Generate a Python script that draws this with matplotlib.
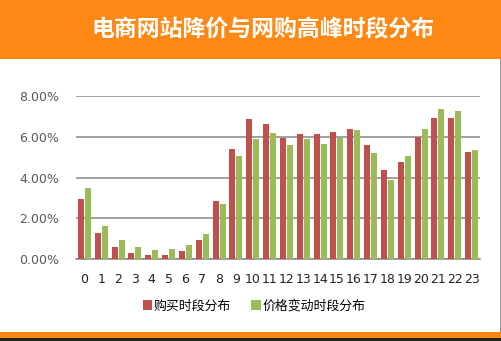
import matplotlib
matplotlib.use("Agg")
import matplotlib.pyplot as plt
from matplotlib.patches import Rectangle, Patch
import numpy as np

plt.rcParams['font.family'] = ['Noto Sans CJK SC', 'DejaVu Sans']

hours = [str(h) for h in range(24)]
purchase = [2.95, 1.29, 0.60, 0.31, 0.21, 0.21, 0.41, 0.95, 2.86, 5.40, 6.87, 6.63,
            5.96, 6.14, 6.14, 6.24, 6.38, 5.60, 4.38, 4.77, 5.98, 6.91, 6.91, 5.26]
price_change = [3.50, 1.63, 0.95, 0.60, 0.45, 0.50, 0.70, 1.24, 2.71, 5.06, 5.89, 6.19,
                5.60, 5.89, 5.65, 5.96, 6.33, 5.21, 3.89, 5.06, 6.38, 7.36, 7.27, 5.36]
series_names = ['购买时段分布', '价格变动时段分布']
yticks = [0, 2, 4, 6, 8]
title = '电商网站降价与网购高峰时段分布'

W, H = 502, 341
fig = plt.figure(figsize=(W / 100, H / 100), dpi=100)
fig.patch.set_facecolor('white')

orange = '#FD8813'
# header band
fig.add_artist(Rectangle((0, (H - 59) / H), 1, 59 / H, transform=fig.transFigure,
                         facecolor=orange, edgecolor='none'))
# bottom band
fig.add_artist(Rectangle((0, 3 / H), 1, 6 / H, transform=fig.transFigure,
                         facecolor=orange, edgecolor='none'))
fig.add_artist(Rectangle((0, 0), 1, 3 / H, transform=fig.transFigure,
                         facecolor='#222222', edgecolor='none'))
fig.add_artist(Rectangle((500 / W, 9 / H), 2 / W, (H - 68) / H, transform=fig.transFigure,
                         facecolor='#9a9a9a', edgecolor='none'))

fig.text(263 / W, 1 - 30 / H, title, color='white', fontsize=16.5, fontweight='bold',
         ha='center', va='center')

ax_l, ax_r, ax_t, ax_b = 76, 480, 96, 259.3
ax = fig.add_axes([ax_l / W, 1 - ax_b / H, (ax_r - ax_l) / W, (ax_b - ax_t) / H])
x = np.arange(len(hours))
bw = 0.36
ax.bar(x - bw / 2 - 0.03, purchase, width=bw, color='#C0504D', zorder=3)
ax.bar(x + bw / 2 + 0.03, price_change, width=bw, color='#9BBB59', zorder=3)
ax.set_xlim(-0.5, 23.5)
ax.set_ylim(0, 8)
ax.set_yticks(yticks)
ax.set_yticklabels([f'{v:.2f}%' for v in yticks], color='#595959', fontsize=9,
                   family='DejaVu Sans')
ax.set_xticks(x)
ax.set_xticklabels(hours, fontsize=9, color='#222222', family='DejaVu Sans')
ax.tick_params(axis='both', length=0)
ax.tick_params(axis='y', pad=12)
ax.tick_params(axis='x', pad=10)
ax.grid(axis='y', color='#868686', linewidth=1.1, zorder=0)
for s in ['top', 'right', 'left']:
    ax.spines[s].set_visible(False)
ax.spines['bottom'].set_color('#868686')
ax.spines['bottom'].set_linewidth(1.1)
ax.set_facecolor('none')

handles = [Patch(facecolor='#C0504D', label=series_names[0]),
           Patch(facecolor='#9BBB59', label=series_names[1])]
fig.legend(handles=handles, loc='center', bbox_to_anchor=(254 / W, 1 - 306 / H), ncol=2,
           frameon=False, fontsize=9.3, handlelength=0.7, handleheight=0.7,
           handletextpad=0.15, columnspacing=1.6)

fig.savefig('out.png', dpi=100)
